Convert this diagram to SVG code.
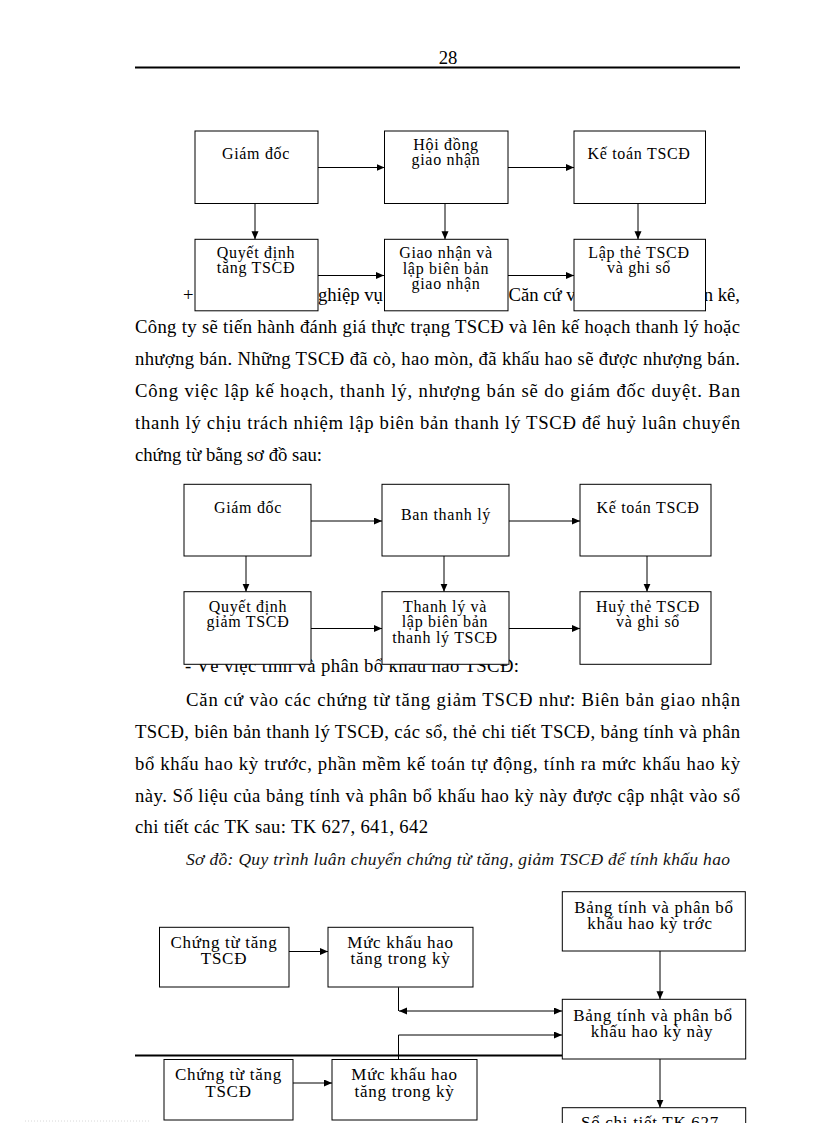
<svg xmlns="http://www.w3.org/2000/svg" width="816" height="1123" viewBox="0 0 816 1123">
<defs>
<marker id="ah" markerUnits="userSpaceOnUse" markerWidth="9" markerHeight="8" refX="8" refY="3.5" orient="auto-start-reverse">
<path d="M0,0 L8,3.5 L0,7 z" fill="#000"/>
</marker>
</defs>
<style>
.body{font-family:"Liberation Serif","Times New Roman",serif;font-size:18.7px;fill:#000}
.cap{font-family:"Liberation Serif","Times New Roman",serif;font-size:17.5px;font-style:italic;fill:#111}
.box{fill:#fff;stroke:#000;stroke-width:1}
.t1{font-family:"Liberation Serif","Times New Roman",serif;font-size:16px;letter-spacing:0.7px;text-anchor:middle;fill:#000}
.t2{font-family:"Liberation Serif","Times New Roman",serif;font-size:17px;letter-spacing:0.7px;text-anchor:middle;fill:#000}
.c{fill:none;stroke:#000;stroke-width:1;marker-end:url(#ah)}
.cn{fill:none;stroke:#000;stroke-width:1}
.rule{stroke:#000;stroke-width:2}
</style>
<rect width="816" height="1123" fill="#fff"/>
<text class="body" x="448" y="64" text-anchor="middle">28</text>
<line class="rule" x1="135" y1="67.5" x2="740" y2="67.5"/>

<!-- paragraph text (partly covered by diagram boxes) -->
<text class="body" x="183" y="301">+</text>
<text class="body" x="318" y="301">ghiệp vụ</text>
<text class="body" x="508.5" y="301">Căn cứ v</text>
<text class="body" x="740" y="301" text-anchor="end">n kê,</text>
<text class="body" x="135" y="333" textLength="605">Công ty sẽ tiến hành đánh giá thực trạng TSCĐ và lên kế hoạch thanh lý hoặc</text>
<text class="body" x="135" y="365" textLength="605">nhượng bán. Những TSCĐ đã cò, hao mòn, đã khấu hao sẽ được nhượng bán.</text>
<text class="body" x="135" y="397" textLength="605">Công việc lập kế hoạch, thanh lý, nhượng bán sẽ do giám  đốc duyệt. Ban</text>
<text class="body" x="135" y="429" textLength="605">thanh lý chịu trách nhiệm lập biên bản thanh lý TSCĐ để huỷ luân chuyển</text>
<text class="body" x="135" y="461" textLength="187">chứng từ bằng sơ đồ sau:</text>
<text class="body" x="185" y="671.5" textLength="334">- Về việc tính và phân bổ khấu hao TSCĐ:</text>
<text class="body" x="186" y="706" textLength="554">Căn cứ vào các chứng từ tăng giảm  TSCĐ như: Biên bản giao nhận</text>
<text class="body" x="135" y="738" textLength="605">TSCĐ, biên bản thanh lý TSCĐ, các sổ, thẻ chi tiết  TSCĐ, bảng tính và phân</text>
<text class="body" x="135" y="770" textLength="605">bổ khấu hao kỳ trước, phần mềm kế toán tự động, tính ra mức khấu hao kỳ</text>
<text class="body" x="135" y="802" textLength="605">này. Số liệu  của bảng tính và phân bổ khấu hao kỳ này được cập nhật vào sổ</text>
<text class="body" x="135" y="833" textLength="293">chi tiết các TK sau: TK 627, 641, 642</text>
<text class="cap" x="186" y="865" textLength="544">Sơ đồ: Quy trình luân chuyển chứng từ tăng, giảm TSCĐ để tính khấu hao</text>

<line class="rule" x1="135" y1="1055.5" x2="562" y2="1055.5"/>
<line x1="25" y1="1121" x2="151" y2="1121" stroke="#d8d8d8" stroke-width="1" stroke-dasharray="1,2"/>

<!-- connectors -->
<g id="connectors">
<path class="c" d="M318 167.5 H384.5"/>
<path class="c" d="M508 167.5 H574"/>
<path class="c" d="M318 275.5 H384"/>
<path class="c" d="M508 275.5 H574"/>
<path class="c" d="M255 203.5 V239.3"/>
<path class="c" d="M445 203.5 V239.3"/>
<path class="c" d="M638 203.5 V239.3"/>

<path class="c" d="M311 521 H382"/>
<path class="c" d="M509 521 H580"/>
<path class="c" d="M311 628.5 H382"/>
<path class="c" d="M509 628.5 H580"/>
<path class="c" d="M246 556 V591.7"/>
<path class="c" d="M444 556 V591.7"/>
<path class="c" d="M647 556 V591.7"/>

<path class="c" d="M289 951.5 H328"/>
<path class="c" d="M293 1083 H332"/>
<path class="c" d="M660 951 V999.3"/>
<path class="c" d="M660 1059 V1107.7"/>
<path class="cn" d="M398.5 987.3 V1011"/>
<path class="c" d="M399 1011 H562" style="marker-start:url(#ah)"/>
<path class="c" d="M398.5 1059.5 V1035 H562"/>
</g>

<!-- diagram 1 -->
<g id="n1-giamdoc"><rect class="box" x="195" y="131" width="123" height="72.5"/><text class="t1" x="256" y="158.5">Giám đốc</text></g>
<g id="n1-hoidong"><rect class="box" x="384.5" y="131" width="123.5" height="72.5"/><text class="t1" x="446" y="150">Hội đồng</text><text class="t1" x="446" y="165">giao nhận</text></g>
<g id="n1-ketoan"><rect class="box" x="574" y="131" width="131.5" height="72.5"/><text class="t1" x="639" y="159">Kế toán TSCĐ</text></g>
<g id="n1-quyetdinh"><rect class="box" x="195" y="239.3" width="123" height="71.5"/><text class="t1" x="256" y="258">Quyết định</text><text class="t1" x="256" y="273">tăng TSCĐ</text></g>
<g id="n1-giaonhan"><rect class="box" x="384.5" y="239.3" width="123.5" height="71.5"/><text class="t1" x="446" y="258">Giao nhận và</text><text class="t1" x="446" y="273.5">lập biên bản</text><text class="t1" x="446" y="289">giao nhận</text></g>
<g id="n1-lapthe"><rect class="box" x="574" y="239.3" width="131.5" height="71.5"/><text class="t1" x="639" y="258">Lập thẻ TSCĐ</text><text class="t1" x="639" y="273">và ghi sổ</text></g>

<!-- diagram 2 -->
<g id="n2-giamdoc"><rect class="box" x="184" y="484.3" width="127" height="71.7"/><text class="t1" x="248" y="513">Giám đốc</text></g>
<g id="n2-banthanhly"><rect class="box" x="382" y="484.3" width="127" height="71.7"/><text class="t1" x="446" y="520">Ban thanh lý</text></g>
<g id="n2-ketoan"><rect class="box" x="580" y="484.3" width="131" height="71.7"/><text class="t1" x="648" y="513">Kế toán TSCĐ</text></g>
<g id="n2-quyetdinh"><rect class="box" x="184" y="591.7" width="127" height="72.6"/><text class="t1" x="248" y="611.7">Quyết định</text><text class="t1" x="248" y="626.7">giảm TSCĐ</text></g>
<g id="n2-thanhly"><rect class="box" x="382" y="591.7" width="127" height="72.6"/><text class="t1" x="445" y="611.7">Thanh lý và</text><text class="t1" x="445" y="627.3">lập biên bản</text><text class="t1" x="445" y="643">thanh lý TSCĐ</text></g>
<g id="n2-huythe"><rect class="box" x="580" y="591.7" width="131" height="72.6"/><text class="t1" x="648" y="611.7">Huỷ thẻ TSCĐ</text><text class="t1" x="648" y="627">và ghi sổ</text></g>

<!-- diagram 3 -->
<g id="n3-chungtu"><rect class="box" x="159.5" y="927.3" width="129.5" height="59.7"/><text class="t2" x="224" y="948">Chứng từ tăng</text><text class="t2" x="224" y="964">TSCĐ</text></g>
<g id="n3-muckhauhao"><rect class="box" x="328" y="927.3" width="145" height="59.7"/><text class="t2" x="400.5" y="947.5">Mức khấu hao</text><text class="t2" x="400.5" y="963.5">tăng trong kỳ</text></g>
<g id="n3-bangtruoc"><rect class="box" x="562.3" y="891.7" width="183" height="59.3"/><text class="t2" x="654" y="913.3">Bảng tính và phân bổ</text><text class="t2" x="650" y="928.5">khấu hao kỳ trớc</text></g>
<g id="n3-bangnay"><rect class="box" x="562.3" y="999.3" width="183.4" height="59.7"/><text class="t2" x="653" y="1021">Bảng tính và phân bổ</text><text class="t2" x="652" y="1036.7">khấu hao kỳ này</text></g>
<g id="n3-chungtu2"><rect class="box" x="164" y="1059.5" width="129" height="60.5"/><text class="t2" x="228.5" y="1080">Chứng từ tăng</text><text class="t2" x="228.5" y="1097">TSCĐ</text></g>
<g id="n3-muckhauhao2"><rect class="box" x="332" y="1059.5" width="145" height="60.5"/><text class="t2" x="404.5" y="1080">Mức khấu hao</text><text class="t2" x="404.5" y="1097">tăng trong kỳ</text></g>
<g id="n3-sochitiet"><rect class="box" x="562.3" y="1107.7" width="183.4" height="30"/><text class="t2" x="650" y="1128">Sổ chi tiết TK 627</text></g>
</svg>
